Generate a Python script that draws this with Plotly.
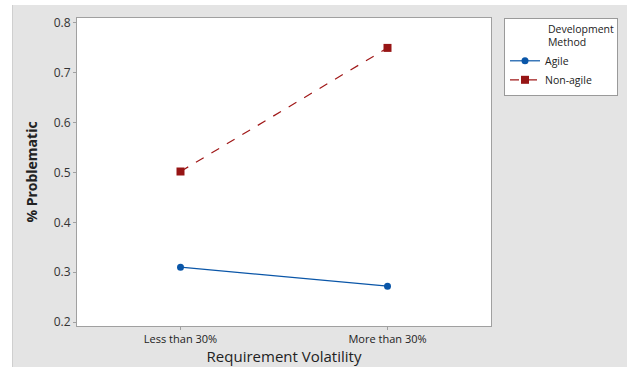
import plotly.graph_objects as go

categories = ["Less than 30%", "More than 30%"]
agile = [0.310, 0.272]
non_agile = [0.502, 0.750]
y_ticks = [0.2, 0.3, 0.4, 0.5, 0.6, 0.7, 0.8]

FONT = "Open Sans"
fig = go.Figure()
fig.add_trace(go.Scatter(
    x=categories, y=agile, name="Agile", mode="lines+markers",
    line=dict(color="#0a56a8", width=1.2),
    marker=dict(symbol="circle", size=7, color="#0a56a8"),
))
fig.add_trace(go.Scatter(
    x=categories, y=non_agile, name="Non-agile", mode="lines+markers",
    line=dict(color="#a01818", width=1.2, dash="dash"),
    marker=dict(symbol="square", size=8, color="#971515"),
))

W, H = 627, 367
L, R, T, B = 77, 491, 18, 326
pw, ph = R - L, B - T

def px(x):
    return (x - L) / pw

def py(y):
    return (B - y) / ph

shapes = [
    dict(type="rect", xref="paper", yref="paper", x0=px(0), x1=px(12), y0=py(H), y1=py(0),
         fillcolor="white", line=dict(width=0), layer="below"),
    dict(type="rect", xref="paper", yref="paper", x0=px(0), x1=px(W), y0=py(5), y1=py(0),
         fillcolor="white", line=dict(width=0), layer="below"),
    dict(type="line", xref="paper", yref="paper", x0=px(12.5), x1=px(12.5), y0=py(H), y1=py(5),
         line=dict(color="#cfcfcf", width=1), layer="below"),
]

pad = "&nbsp;" * 15
fig.update_layout(
    width=W, height=H,
    margin=dict(l=L, r=W - R, t=T, b=H - B),
    paper_bgcolor="#e4e4e4",
    plot_bgcolor="white",
    font=dict(family=FONT, color="#333333", size=11),
    showlegend=True,
    legend=dict(
        xref="container", yref="container",
        x=504 / W, y=1 - 18 / H, xanchor="left", yanchor="top",
        bgcolor="white", bordercolor="#9a9a9a", borderwidth=1,
        title=dict(text=pad + "Development<br>" + pad + "Method", font=dict(size=10.5, color="#222222"), side="top"),
        font=dict(size=10.5, color="#222222"),
        tracegroupgap=0, itemwidth=30,
    ),
    xaxis=dict(
        type="category", range=[-0.5, 1.5], automargin=False,
        showline=True, linecolor="#a0a0a0", mirror=True, showgrid=False,
        ticks="outside", ticklen=3, tickcolor="#a0a0a0",
        tickfont=dict(size=11, color="#222222"),
        title=dict(text="Requirement Volatility", font=dict(size=15, color="#222222"), standoff=4),
        zeroline=False,
    ),
    yaxis=dict(
        range=[0.192, 0.81], tickvals=y_ticks, tickformat=".1f", automargin=False,
        showline=True, linecolor="#a0a0a0", mirror=True, showgrid=False,
        ticks="outside", ticklen=3, tickcolor="#a0a0a0",
        tickfont=dict(size=12, color="#333333"),
        title=dict(text="<b>% Problematic</b>", font=dict(size=14, color="#222222"), standoff=12),
        zeroline=False,
    ),
    shapes=shapes,
)

fig.write_html("out.html", config={"displayModeBar": False},
               post_script="document.body.style.margin='0';")
